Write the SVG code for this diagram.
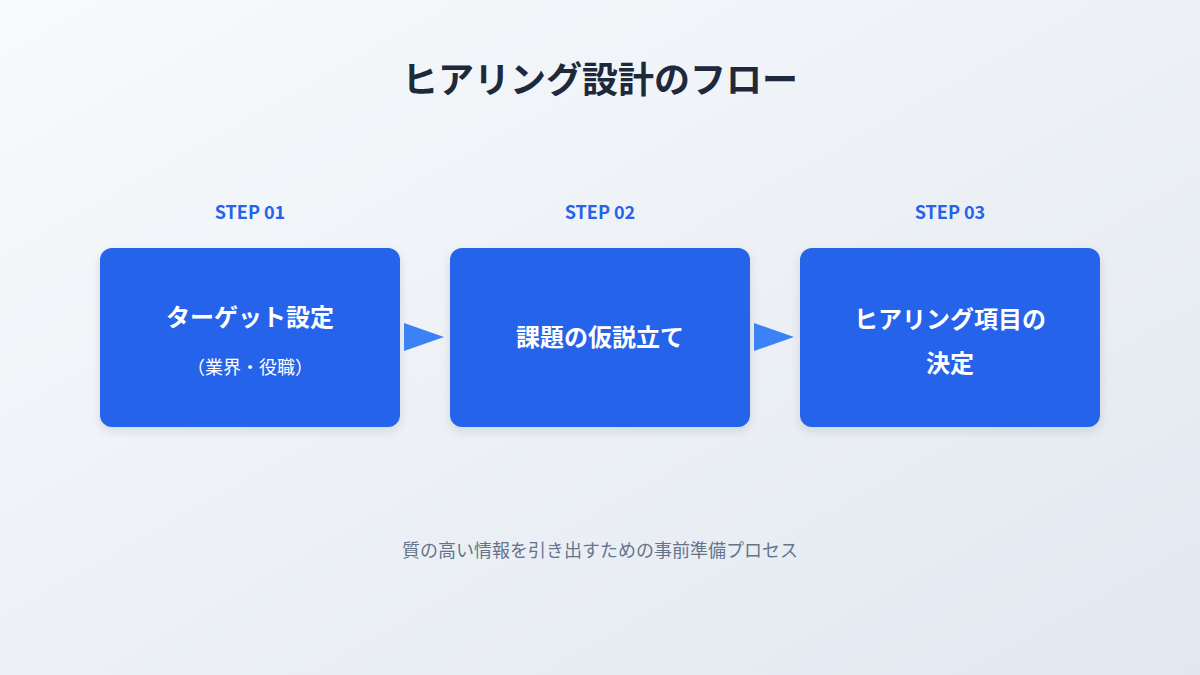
<svg xmlns="http://www.w3.org/2000/svg" width="1200" height="675" viewBox="0 0 1200 675">
<defs>
<linearGradient id="bg" x1="0" y1="0" x2="1" y2="1"><stop offset="0" stop-color="#f8fafc"/><stop offset="1" stop-color="#e2e8f0"/></linearGradient>
<filter id="sh" x="-10%" y="-10%" width="120%" height="130%"><feDropShadow dx="0" dy="4" stdDeviation="5" flood-color="#1e293b" flood-opacity="0.12"/></filter>
<style>
text{font-family:"Noto Sans CJK JP","Noto Sans",sans-serif;text-anchor:middle}
.box{fill:#2563eb;filter:url(#sh)}
.step{fill:#2563eb;font-size:18px;font-weight:700}
.t{fill:#fff;font-size:24px;font-weight:700}
.s{fill:#fff;font-size:18px}
.arr{fill:#3b82f6}
</style>
</defs>
<rect width="1200" height="675" fill="url(#bg)"/>
<text x="600" y="93" font-size="36" font-weight="700" fill="#1e293b">ヒアリング設計のフロー</text>
<g id="node1"><text class="step" x="250" y="219">STEP 01</text><rect class="box" x="100" y="248" width="300" height="179" rx="12"/><text class="t" x="250" y="326">ターゲット設定</text><text class="s" x="250" y="374">（業界・役職）</text></g>
<g id="node2"><text class="step" x="600" y="219">STEP 02</text><rect class="box" x="450" y="248" width="300" height="179" rx="12"/><text class="t" x="600" y="346">課題の仮説立て</text></g>
<g id="node3"><text class="step" x="950" y="219">STEP 03</text><rect class="box" x="800" y="248" width="300" height="179" rx="12"/><text class="t" x="950" y="328">ヒアリング項目の</text><text class="t" x="950" y="372">決定</text></g>
<g id="connectors"><polygon class="arr" points="404,323 444,337 404,351"/><polygon class="arr" points="754,323 794,337 754,351"/></g>
<text x="600" y="557" font-size="18" fill="#64748b">質の高い情報を引き出すための事前準備プロセス</text>
</svg>
